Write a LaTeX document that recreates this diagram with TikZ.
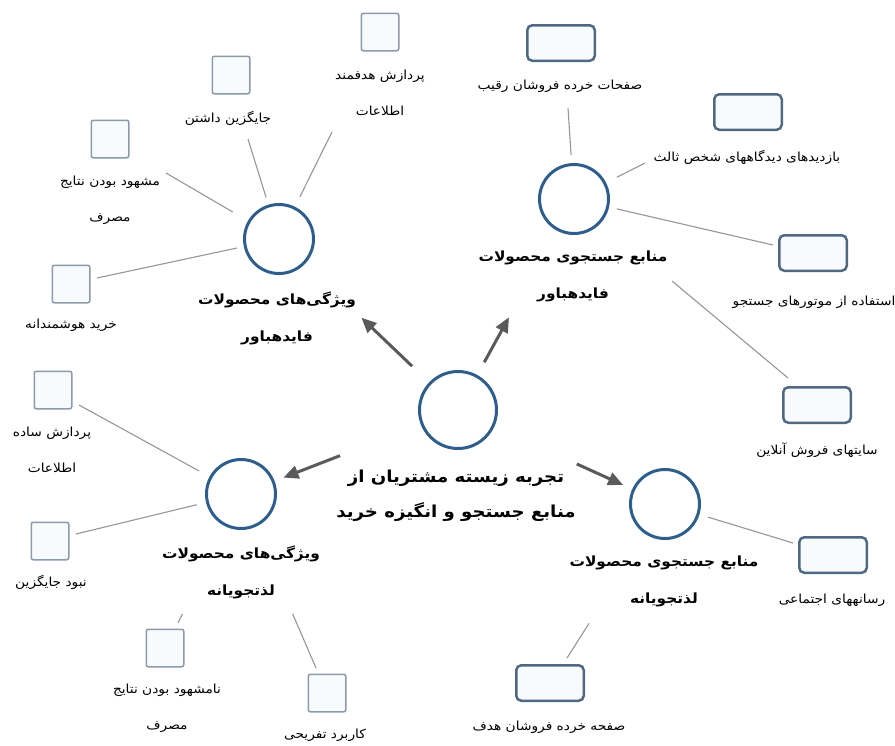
\documentclass[tikz,border=0pt]{standalone}
\usepackage{fontspec}
\usetikzlibrary{arrows.meta}
\TeXXeTstate=1
\newfontfamily\arabicfont[Script=Arabic, FakeStretch=1.1]{DejaVu Sans}
\newcommand\fa[1]{\beginR #1\endR}
\definecolor{circc}{RGB}{47,94,140}
\definecolor{rbc}{RGB}{80,104,130}
\definecolor{sqc}{RGB}{140,155,172}
\definecolor{boxfill}{RGB}{248,251,254}
\definecolor{lc}{RGB}{150,150,150}
\definecolor{ac}{RGB}{90,90,90}
\begin{document}
\begin{tikzpicture}[x=1pt,y=-1pt,
  hub/.style={circle, draw=circc, line width=3pt, fill=white, minimum size=69pt, inner sep=0pt, outer sep=0pt},
  sq/.style={rectangle, rounded corners=2pt, draw=sqc, line width=1.5pt, fill=boxfill, minimum width=37.5pt, minimum height=37.5pt, inner sep=0pt, outer sep=0pt},
  rb/.style={rectangle, rounded corners=5pt, draw=rbc, line width=2.5pt, fill=boxfill, minimum width=67.5pt, minimum height=35.5pt, inner sep=0pt, outer sep=0pt},
  lab/.style={font=\arabicfont\fontsize{12.5}{36}\selectfont, align=center, inner sep=0pt},
  mlab/.style={font=\arabicfont\bfseries\fontsize{14}{37}\selectfont, align=center, inner sep=0pt},
  clab/.style={font=\arabicfont\bfseries\fontsize{16.5}{35}\selectfont, align=center, inner sep=0pt},
  conn/.style={draw=lc, line width=1.1pt},
  arr/.style={draw=ac, line width=3pt, -{Triangle[length=15pt,width=13pt]}}
]
\useasboundingbox (0,0) rectangle (895,745);

% hubs
\node[hub, minimum size=77pt] (c0) at (458,410) {};
\node[clab] (t0) at (456,496) {\fa{تجربه زیسته مشتریان از}\\\fa{منابع جستجو و انگیزه خرید}};
\node[hub] (c1) at (279,239) {};
\node[mlab] (t1) at (277,318) {\fa{ویژگی‌های محصولات}\\\fa{فایدهباور}};
\node[hub] (c2) at (574,199) {};
\node[mlab] (t2) at (573,276) {\fa{منابع جستجوی محصولات}\\\fa{فایدهباور}};
\node[hub] (c3) at (665,504) {};
\node[mlab] (t3) at (664,581) {\fa{منابع جستجوی محصولات}\\\fa{لذتجویانه}};
\node[hub] (c4) at (241,494) {};
\node[mlab] (t4) at (241,572) {\fa{ویژگی‌های محصولات}\\\fa{لذتجویانه}};

% top-left satellites
\node[sq] (b11) at (71,284) {};
\node[lab] (l11) at (71,325) {\fa{خرید هوشمندانه}};
\coordinate (q11) at (97,278);
\node[sq] (b12) at (110,139) {};
\node[lab] (l12) at (110,200) {\fa{مشهود بودن نتایج}\\\fa{مصرف}};
\coordinate (q12) at (166,173);
\node[sq] (b13) at (231,75) {};
\node[lab] (l13) at (228,118) {\fa{جایگزین داشتن}};
\coordinate (q13) at (248,139);
\node[sq] (b14) at (380,32) {};
\node[lab] (l14) at (380,93) {\fa{پردازش هدفمند}\\\fa{اطلاعات}};
\coordinate (q14) at (332,132);

% top-right satellites
\node[rb] (b21) at (561,43) {};
\node[lab] (l21) at (560,86) {\fa{صفحات خرده فروشان رقیب}};
\coordinate (q21) at (568,108);
\node[rb] (b22) at (748,112) {};
\node[lab] (l22) at (747,157) {\fa{بازدیدهای دیدگاههای شخص ثالث}};
\coordinate (q22) at (645,163);
\node[rb] (b23) at (813,253) {};
\node[lab] (l23) at (814,302) {\fa{استفاده از موتورهای جستجو}};
\coordinate (q23) at (773,245);
\node[rb] (b24) at (817,405) {};
\node[lab] (l24) at (817,450) {\fa{سایتهای فروش آنلاین}};
\coordinate (q24) at (788,378);

% bottom-right satellites
\node[rb] (b31) at (833,555) {};
\node[lab] (l31) at (832,600) {\fa{رسانههای اجتماعی}};
\coordinate (q31) at (793,543);
\node[rb] (b32) at (550,683) {};
\node[lab] (l32) at (549,727) {\fa{صفحه خرده فروشان هدف}};
\coordinate (q32) at (567,658);

% bottom-left satellites
\node[sq] (b41) at (53,390) {};
\node[lab] (l41) at (52,450) {\fa{پردازش ساده}\\\fa{اطلاعات}};
\coordinate (q41) at (79,405);
\node[sq] (b42) at (50,541) {};
\node[lab] (l42) at (51,582) {\fa{نبود جایگزین}};
\coordinate (q42) at (76,534);
\node[sq] (b43) at (165,648) {};
\node[lab] (l43) at (167,708) {\fa{نامشهود بودن نتایج}\\\fa{مصرف}};
\coordinate (q43) at (178,623);
\node[sq] (b44) at (327,693) {};
\node[lab] (l44) at (325,735) {\fa{کاربرد تفریحی}};
\coordinate (q44) at (316,668);

% connectors
\draw[conn, shorten <=8.5pt] (c1) -- (q11);
\draw[conn, shorten <=19pt] (c1) -- (q12);
\draw[conn, shorten <=9pt] (c1) -- (q13);
\draw[conn, shorten <=12.5pt] (c1) -- (q14);
\draw[conn, shorten <=9.5pt] (c2) -- (q21);
\draw[conn, shorten <=13.5pt] (c2) -- (q22);
\draw[conn, shorten <=9.5pt] (c2) -- (q23);
\draw[conn, shorten <=93.5pt] (c2) -- (q24);
\draw[conn, shorten <=10.7pt] (c3) -- (q31);
\draw[conn, shorten <=107pt] (c3) -- (q32);
\draw[conn, shorten <=13.4pt] (c4) -- (q41);
\draw[conn, shorten <=11pt] (c4) -- (q42);
\draw[conn, shorten <=99pt] (c4) -- (q43);
\draw[conn, shorten <=96pt] (c4) -- (q44);

% arrows
\draw[arr, shorten <=25pt, shorten >=79.5pt] (c0) -- (c1);
\draw[arr, shorten <=16pt, shorten >=100.5pt] (c0) -- (c2);
\draw[arr, shorten <=88pt, shorten >=11pt] (c0) -- (c4);
\draw[arr, shorten <=92pt, shorten >=11.5pt] (c0) -- (c3);
\end{tikzpicture}
\end{document}
